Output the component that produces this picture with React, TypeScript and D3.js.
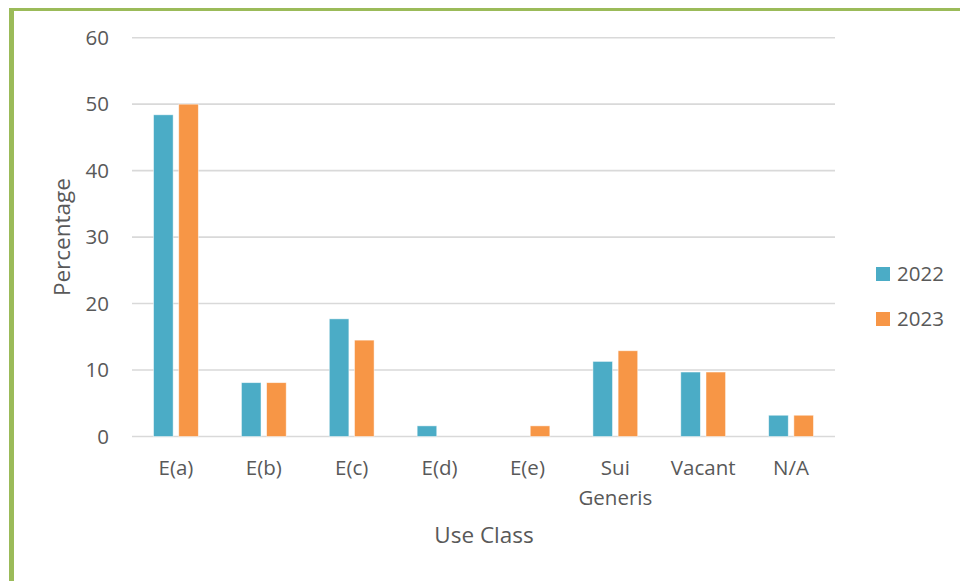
import React from "react";
import * as d3 from "d3";

// Share of units by use class, per survey year
const categories: string[][] = [
  ["E(a)"],
  ["E(b)"],
  ["E(c)"],
  ["E(d)"],
  ["E(e)"],
  ["Sui", "Generis"],
  ["Vacant"],
  ["N/A"],
];
const years = ["2022", "2023"];
const values2022 = [48.4, 8.1, 17.7, 1.6, 0, 11.3, 9.7, 3.2];
const values2023 = [50.0, 8.1, 14.5, 0, 1.6, 12.9, 9.7, 3.2];
const yTicks = [0, 10, 20, 30, 40, 50, 60];

const colors = ["#4BACC6", "#F79646"];
const font = "'Open Sans', 'Noto Sans', sans-serif";
const textColor = "#595959";

export default function App() {
  const width = 960;
  const height = 581;
  const plot = { left: 132, right: 835, top: 37.7, bottom: 436.5 };

  const keys = categories.map((c) => c.join(" "));
  const x = d3
    .scaleBand<string>()
    .domain(keys)
    .range([plot.left, plot.right])
    .paddingInner(0)
    .paddingOuter(0);
  const y = d3.scaleLinear().domain([0, 60]).range([plot.bottom, plot.top]);

  const barW = 19.6;
  const gap = 5.6;
  const series = [values2022, values2023];

  return (
    <svg
      width={width}
      height={height}
      style={{ position: "absolute", left: 0, top: 0, background: "#fff" }}
      fontFamily={font}
    >
      {/* frame */}
      <rect x={9} y={8} width={width} height={3} fill="#9BBB59" />
      <rect x={9} y={8} width={5} height={height} fill="#9BBB59" />

      {/* gridlines */}
      {yTicks.map((t) => (
        <line
          key={t}
          x1={plot.left}
          x2={plot.right}
          y1={y(t)}
          y2={y(t)}
          stroke="#D9D9D9"
          strokeWidth={1.6}
        />
      ))}

      {/* y tick labels */}
      {yTicks.map((t) => (
        <text
          key={t}
          x={109}
          y={y(t)}
          dy="0.35em"
          textAnchor="end"
          fontSize={20.5}
          fill={textColor}
        >
          {t}
        </text>
      ))}

      {/* bars */}
      {series.map((vals, si) =>
        vals.map((v, i) => {
          if (v <= 0) return null;
          const cx = (x(keys[i]) as number) + x.bandwidth() / 2;
          const bx = si === 0 ? cx - gap / 2 - barW : cx + gap / 2;
          return (
            <rect
              key={`${si}-${i}`}
              x={bx}
              y={y(v)}
              width={barW}
              height={y(0) - y(v)}
              fill={colors[si]}
              stroke="#ffffff"
              strokeOpacity={0.6}
              strokeWidth={0.8}
            />
          );
        })
      )}

      {/* category labels */}
      {categories.map((lines, i) => {
        const cx = (x(keys[i]) as number) + x.bandwidth() / 2;
        return (
          <text key={keys[i]} x={cx} y={475} textAnchor="middle" fontSize={20.5} fill={textColor}>
            {lines.map((l, li) => (
              <tspan key={l} x={cx} dy={li === 0 ? 0 : 30}>
                {l}
              </tspan>
            ))}
          </text>
        );
      })}

      {/* axis titles */}
      <text x={484} y={543} textAnchor="middle" fontSize={22.5} fill={textColor}>
        Use Class
      </text>
      <text
        transform={`translate(70, ${(plot.top + plot.bottom) / 2}) rotate(-90)`}
        textAnchor="middle"
        fontSize={22.5}
        fill={textColor}
      >
        Percentage
      </text>

      {/* legend */}
      {years.map((yr, i) => (
        <g key={yr} transform={`translate(876, ${267 + i * 45})`}>
          <rect width={14} height={14} fill={colors[i]} />
          <text x={21} y={7} dy="0.35em" fontSize={20.5} fill={textColor}>
            {yr}
          </text>
        </g>
      ))}
    </svg>
  );
}
